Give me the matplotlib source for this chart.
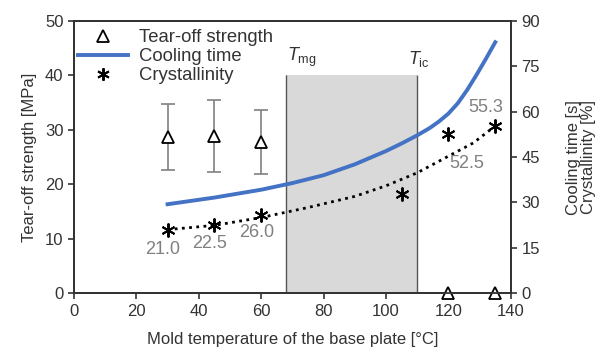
import matplotlib
matplotlib.use("Agg")
import matplotlib.pyplot as plt

plt.rcParams['font.family'] = ['Liberation Sans', 'DejaVu Sans']
plt.rcParams['mathtext.fontset'] = 'custom'
plt.rcParams['mathtext.it'] = 'Liberation Sans:italic'
plt.rcParams['mathtext.rm'] = 'Liberation Sans'

# Tear-off strength [MPa]
tear_x = [30, 45, 60, 120, 135]
tear_y = [28.6, 28.8, 27.7, 0, 0]
tear_lo = [22.7, 22.3, 21.9, 0, 0]
tear_hi = [34.7, 35.4, 33.6, 0, 0]

# Cooling time [s]
cool_x = [30, 45, 60, 70, 80, 90, 100, 105, 110, 114, 117, 120, 123, 126, 129, 132, 135]
cool_y = [29.4, 31.6, 34.2, 36.4, 39.0, 42.6, 47.0, 49.5, 52.2, 54.6, 56.8, 59.4, 62.8, 67.2, 72.2, 77.5, 83.0]

# Crystallinity [%]
cryst_x = [30, 45, 60, 105, 120, 135]
cryst_y = [21.0, 22.5, 26.0, 32.7, 52.5, 55.3]
cryst_labels = ['21.0', '22.5', '26.0', '', '52.5', '55.3']
# dotted trend
trend_x = [30, 45, 60, 75, 90, 100, 110, 120, 128, 135]
trend_y = [21.0, 22.4, 25.0, 28.3, 32.0, 35.5, 39.8, 45.3, 49.7, 55.3]

T_mg = 68
T_ic = 110
shade_top = 40

dark = '#333333'
grey = '#808080'
blue = '#4472c4'

fig = plt.figure(figsize=(6.01, 3.51), dpi=100)
ax = fig.add_axes([0.123, 0.165, 0.727, 0.775])
ax2 = ax.twinx()

# shaded processing window
ax.fill_between([T_mg, T_ic], 0, shade_top, color='#d9d9d9', lw=0, zorder=0)
ax.vlines([T_mg, T_ic], 0, shade_top, colors='#555555', lw=1.0, zorder=1)
ax.text(T_mg + 0.3, shade_top + 1.2, r'$T_{\mathrm{mg}}$', fontsize=13, color=dark, ha='left', va='bottom')
ax.text(T_ic + 0.5, shade_top + 1.2, r'$T_{\mathrm{ic}}$', fontsize=13, color=dark, ha='center', va='bottom')

# tear-off strength with error bars
yerr = [[y - lo for y, lo in zip(tear_y[:3], tear_lo[:3])],
        [hi - y for y, hi in zip(tear_y[:3], tear_hi[:3])]]
ax.errorbar(tear_x[:3], tear_y[:3], yerr=yerr, fmt='none', ecolor=grey, elinewidth=1.2,
            capsize=5, capthick=1.2, zorder=3)
ax.plot(tear_x, tear_y, ls='none', marker='^', ms=9, mfc='white', mec='black', mew=1.3,
        clip_on=False, zorder=5)

# cooling time and crystallinity on right axis
ax2.plot(cool_x, cool_y, color=blue, lw=2.8, zorder=3, solid_joinstyle='round')
ax2.plot(trend_x, trend_y, color='black', ls=(0, (1, 1.6)), lw=2.0, zorder=3)
ax2.plot(cryst_x, cryst_y, ls='none', marker=(6, 2, 0), ms=10, mec='black', mew=1.4, zorder=4)

offsets = {30: (-1.5, -6.5), 45: (-1.5, -6.0), 60: (-1.5, -6.0), 120: (6.0, -9.5), 135: (-3.0, 6.0)}
for x, y, lab in zip(cryst_x, cryst_y, cryst_labels):
    if not lab:
        continue
    dx, dy = offsets[x]
    ax2.text(x + dx, y + dy, lab, fontsize=13, color=grey, ha='center', va='center')

ax.set_xlim(0, 140)
ax.set_ylim(0, 50)
ax2.set_ylim(0, 90)
ax.set_xticks(range(0, 141, 20))
ax.set_yticks(range(0, 51, 10))
ax2.set_yticks(range(0, 91, 15))

for a in (ax, ax2):
    for s in a.spines.values():
        s.set_color(dark)
        s.set_linewidth(1.3)
    a.tick_params(colors=dark, labelsize=12, width=1.2, length=4, labelcolor=dark)

ax.set_xlabel('Mold temperature of the base plate [°C]', fontsize=12, color=dark, labelpad=10)
ax.set_ylabel('Tear-off strength [MPa]', fontsize=12, color=dark, labelpad=6)
ax2.set_ylabel('Cooling time [s]\nCrystallinity [%]', fontsize=12, color=dark, labelpad=19,
               linespacing=1.0)

# legend
h1 = plt.Line2D([], [], ls='none', marker='^', ms=8, mfc='white', mec='black', mew=1.3)
h2 = plt.Line2D([], [], color=blue, lw=2.8)
h3 = plt.Line2D([], [], ls='none', marker=(6, 2, 0), ms=9, mec='black', mew=1.4)
ax.legend([h1, h2, h3], ['Tear-off strength', 'Cooling time', 'Crystallinity'],
          loc='upper left', bbox_to_anchor=(-0.015, 1.01), frameon=False, fontsize=13.3,
          handlelength=2.7, labelspacing=0.1, borderaxespad=0.2, handletextpad=0.6,
          labelcolor=dark)

fig.savefig('out.png', dpi=100)
